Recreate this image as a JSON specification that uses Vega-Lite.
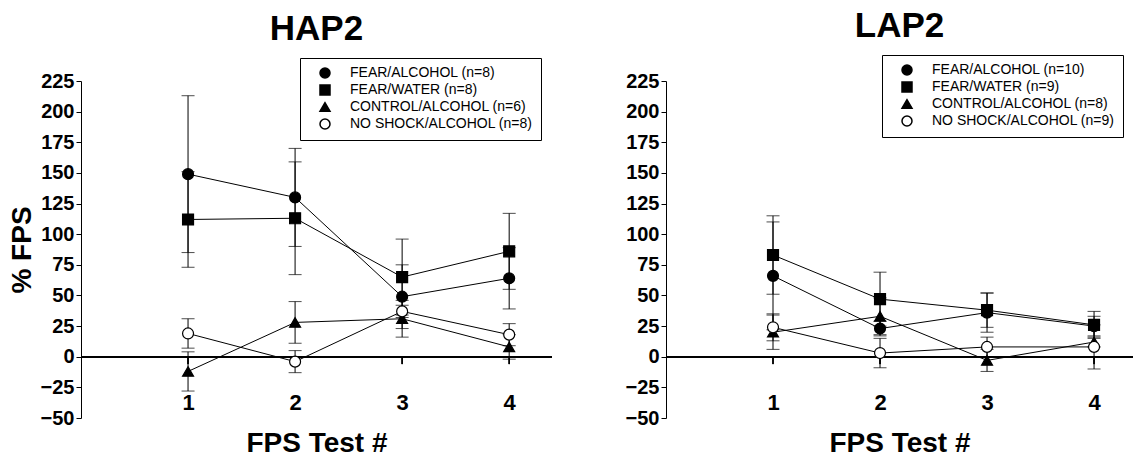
{
  "$schema": "https://vega.github.io/schema/vega-lite/v6.json",
  "background": "white",
  "padding": {"left": 8, "top": 8, "right": 0, "bottom": 0},
  "datasets": {
    "hap": [
      {"group": "FEAR/ALCOHOL (n=8)", "test": 1, "mean": 149, "sem": 64},
      {"group": "FEAR/ALCOHOL (n=8)", "test": 2, "mean": 130, "sem": 40},
      {"group": "FEAR/ALCOHOL (n=8)", "test": 3, "mean": 49, "sem": 26},
      {"group": "FEAR/ALCOHOL (n=8)", "test": 4, "mean": 64, "sem": 25},
      {"group": "FEAR/WATER (n=8)", "test": 1, "mean": 112, "sem": 39},
      {"group": "FEAR/WATER (n=8)", "test": 2, "mean": 113, "sem": 46},
      {"group": "FEAR/WATER (n=8)", "test": 3, "mean": 65, "sem": 31},
      {"group": "FEAR/WATER (n=8)", "test": 4, "mean": 86, "sem": 31},
      {"group": "CONTROL/ALCOHOL (n=6)", "test": 1, "mean": -12, "sem": 16},
      {"group": "CONTROL/ALCOHOL (n=6)", "test": 2, "mean": 28, "sem": 17},
      {"group": "CONTROL/ALCOHOL (n=6)", "test": 3, "mean": 31, "sem": 15},
      {"group": "CONTROL/ALCOHOL (n=6)", "test": 4, "mean": 8, "sem": 10},
      {"group": "NO SHOCK/ALCOHOL (n=8)", "test": 1, "mean": 19, "sem": 12},
      {"group": "NO SHOCK/ALCOHOL (n=8)", "test": 2, "mean": -4, "sem": 9},
      {"group": "NO SHOCK/ALCOHOL (n=8)", "test": 3, "mean": 37, "sem": 5},
      {"group": "NO SHOCK/ALCOHOL (n=8)", "test": 4, "mean": 18, "sem": 9}
    ],
    "lap": [
      {"group": "FEAR/ALCOHOL (n=10)", "test": 1, "mean": 66, "sem": 44},
      {"group": "FEAR/ALCOHOL (n=10)", "test": 2, "mean": 23, "sem": 6},
      {"group": "FEAR/ALCOHOL (n=10)", "test": 3, "mean": 36, "sem": 16},
      {"group": "FEAR/ALCOHOL (n=10)", "test": 4, "mean": 25, "sem": 8},
      {"group": "FEAR/WATER (n=9)", "test": 1, "mean": 83, "sem": 32},
      {"group": "FEAR/WATER (n=9)", "test": 2, "mean": 47, "sem": 22},
      {"group": "FEAR/WATER (n=9)", "test": 3, "mean": 38, "sem": 14},
      {"group": "FEAR/WATER (n=9)", "test": 4, "mean": 26, "sem": 11},
      {"group": "CONTROL/ALCOHOL (n=8)", "test": 1, "mean": 20, "sem": 14},
      {"group": "CONTROL/ALCOHOL (n=8)", "test": 2, "mean": 33, "sem": 15},
      {"group": "CONTROL/ALCOHOL (n=8)", "test": 3, "mean": -3, "sem": 9},
      {"group": "CONTROL/ALCOHOL (n=8)", "test": 4, "mean": 12, "sem": 4},
      {"group": "NO SHOCK/ALCOHOL (n=9)", "test": 1, "mean": 24, "sem": 11},
      {"group": "NO SHOCK/ALCOHOL (n=9)", "test": 2, "mean": 3, "sem": 12},
      {"group": "NO SHOCK/ALCOHOL (n=9)", "test": 3, "mean": 8, "sem": 8},
      {"group": "NO SHOCK/ALCOHOL (n=9)", "test": 4, "mean": 8, "sem": 18}
    ]
  },
  "config": {
    "view": {"stroke": null},
    "font": "Liberation Sans",
    "axis": {
      "domainColor": "black", "tickColor": "black", "labelColor": "black", "titleColor": "black",
      "labelFontWeight": "bold", "titleFontWeight": "bold", "grid": false, "labelFont": "Liberation Sans", "titleFont": "Liberation Sans"
    },
    "title": {"fontSize": 35, "fontWeight": "bold", "color": "black", "anchor": "middle", "font": "Liberation Sans", "offset": 11},
    "concat": {"spacing": 72}
  },
  "resolve": {"scale": {"shape": "independent", "fill": "independent", "x": "independent", "y": "independent"}, "legend": {"shape": "independent", "fill": "independent"}},
  "hconcat": [
    {
      "title": {"text": "HAP2"},
      "width": 471,
      "height": 337,
      "data": {"name": "hap"},
      "encoding": {
        "x": {"field": "test", "type": "quantitative", "scale": {"domain": [0, 4.4], "nice": false, "zero": false},
              "axis": {"values": [1, 2, 3, 4], "title": "FPS Test #", "titleFontSize": 28, "labelFontSize": 22, "domain": false, "ticks": false, "offset": -28, "labelPadding": 2, "titlePadding": 16}},
        "y": {"field": "mean", "type": "quantitative", "scale": {"domain": [-50, 225], "nice": false, "zero": false},
              "axis": {"values": [-50, -25, 0, 25, 50, 75, 100, 125, 150, 175, 200, 225], "title": "% FPS", "titleFontSize": 28, "labelFontSize": 20, "tickSize": 5, "labelPadding": 2, "titlePadding": 4}}
      },
      "layer": [
        {"mark": {"type": "rule", "color": "black", "strokeWidth": 1.2}, "encoding": {"x": {"datum": 0}, "x2": {"datum": 4.4}, "y": {"datum": 0}}},
        {"mark": {"type": "rule", "color": "black", "strokeWidth": 1}, "encoding": {"y": {"datum": 0}, "y2": {"datum": -6}}},
        {"mark": {"type": "errorbar", "ticks": {"size": 13, "color": "black"}, "color": "black", "thickness": 1}, "encoding": {"yError": {"field": "sem"}}},
        {"mark": {"type": "line", "color": "black", "strokeWidth": 1}, "encoding": {"detail": {"field": "group"}}},
        {"mark": {"type": "point", "filled": true, "stroke": "black", "strokeWidth": 1.2, "size": 120, "opacity": 1},
         "encoding": {
           "shape": {"field": "group", "type": "nominal",
             "scale": {"domain": ["FEAR/ALCOHOL (n=8)", "FEAR/WATER (n=8)", "CONTROL/ALCOHOL (n=6)", "NO SHOCK/ALCOHOL (n=8)"], "range": ["circle", "square", "triangle-up", "circle"]},
             "legend": {"orient": "none", "legendX": 219, "legendY": -23, "title": null, "strokeColor": "black", "padding": 8, "labelFontSize": 14, "labelLimit": 400, "labelFont": "Liberation Sans", "labelColor": "black", "rowPadding": 1, "symbolSize": 100, "symbolOffset": 10, "labelOffset": 18,
               "encode": {"symbols": {
                 "fill": {"value": {"expr": "datum.index == 3 ? 'white' : 'black'"}},
                 "stroke": {"value": "black"}, "strokeWidth": {"value": 1.2}}}}},
           "fill": {"field": "group", "type": "nominal", "legend": null,
             "scale": {"domain": ["FEAR/ALCOHOL (n=8)", "FEAR/WATER (n=8)", "CONTROL/ALCOHOL (n=6)", "NO SHOCK/ALCOHOL (n=8)"], "range": ["black", "black", "black", "white"]}}
         }}
      ]
    },
    {
      "title": {"text": "LAP2"},
      "width": 467,
      "height": 337,
      "data": {"name": "lap"},
      "encoding": {
        "x": {"field": "test", "type": "quantitative", "scale": {"domain": [0, 4.364], "nice": false, "zero": false},
              "axis": {"values": [1, 2, 3, 4], "title": "FPS Test #", "titleFontSize": 28, "labelFontSize": 22, "domain": false, "ticks": false, "offset": -28, "labelPadding": 2, "titlePadding": 16}},
        "y": {"field": "mean", "type": "quantitative", "scale": {"domain": [-50, 225], "nice": false, "zero": false},
              "axis": {"values": [-50, -25, 0, 25, 50, 75, 100, 125, 150, 175, 200, 225], "title": null, "labelFontSize": 20, "tickSize": 5, "labelPadding": 2}}
      },
      "layer": [
        {"mark": {"type": "rule", "color": "black", "strokeWidth": 1.2}, "encoding": {"x": {"datum": 0}, "x2": {"datum": 4.364}, "y": {"datum": 0}}},
        {"mark": {"type": "rule", "color": "black", "strokeWidth": 1}, "encoding": {"y": {"datum": 0}, "y2": {"datum": -6}}},
        {"mark": {"type": "errorbar", "ticks": {"size": 13, "color": "black"}, "color": "black", "thickness": 1}, "encoding": {"yError": {"field": "sem"}}},
        {"mark": {"type": "line", "color": "black", "strokeWidth": 1}, "encoding": {"detail": {"field": "group"}}},
        {"mark": {"type": "point", "filled": true, "stroke": "black", "strokeWidth": 1.2, "size": 120, "opacity": 1},
         "encoding": {
           "shape": {"field": "group", "type": "nominal",
             "scale": {"domain": ["FEAR/ALCOHOL (n=10)", "FEAR/WATER (n=9)", "CONTROL/ALCOHOL (n=8)", "NO SHOCK/ALCOHOL (n=9)"], "range": ["circle", "square", "triangle-up", "circle"]},
             "legend": {"orient": "none", "legendX": 216, "legendY": -26, "title": null, "strokeColor": "black", "padding": 8, "labelFontSize": 14, "labelLimit": 400, "labelFont": "Liberation Sans", "labelColor": "black", "rowPadding": 1, "symbolSize": 100, "symbolOffset": 10, "labelOffset": 18,
               "encode": {"symbols": {
                 "fill": {"value": {"expr": "datum.index == 3 ? 'white' : 'black'"}},
                 "stroke": {"value": "black"}, "strokeWidth": {"value": 1.2}}}}},
           "fill": {"field": "group", "type": "nominal", "legend": null,
             "scale": {"domain": ["FEAR/ALCOHOL (n=10)", "FEAR/WATER (n=9)", "CONTROL/ALCOHOL (n=8)", "NO SHOCK/ALCOHOL (n=9)"], "range": ["black", "black", "black", "white"]}}
         }}
      ]
    }
  ]
}
